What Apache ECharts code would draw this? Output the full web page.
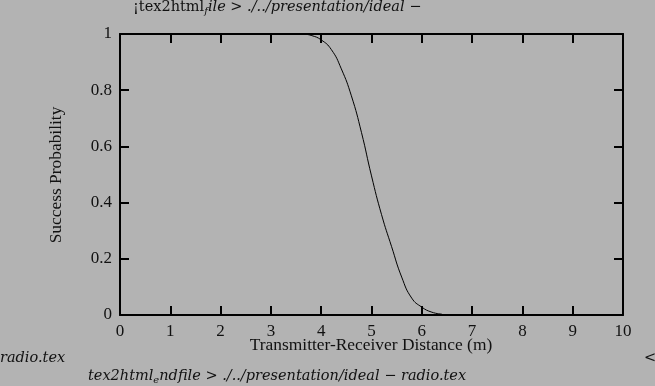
<!DOCTYPE html>
<html>
<head>
<meta charset="utf-8">
<script src="https://cdn.jsdelivr.net/npm/echarts@6/dist/echarts.min.js"></script>
<style>
html,body{margin:0;padding:0;background:#b3b3b3;}
#c{width:655px;height:386px;}
</style>
</head>
<body>
<div id="c"></div>
<script>
const distance = [3.64, 3.8, 4.0, 4.2, 4.4, 4.6, 4.8, 5.0, 5.2, 5.4, 5.6, 5.8, 6.0, 6.2, 6.4];
const probability = [1.0, 0.995, 0.979, 0.945, 0.876, 0.78, 0.65, 0.495, 0.357, 0.243, 0.135, 0.06, 0.028, 0.01, 0.003];
const xTicks = [0, 1, 2, 3, 4, 5, 6, 7, 8, 9, 10];
const yTicks = [0, 0.2, 0.4, 0.6, 0.8, 1];
const xName = 'Transmitter-Receiver Distance (m)';
const yName = 'Success Probability';

const FONT = 'Liberation Serif';
const MFONT = 'DejaVu Serif';
const chart = echarts.init(document.getElementById('c'), null, {renderer: 'canvas'});
const axisLine = () => ({show: true, onZero: false, lineStyle: {color: '#000', width: 2}});
const tick = (len) => ({show: true, inside: true, length: len, lineStyle: {color: '#000', width: 2}});
const lbl = (m) => ({show: true, margin: m, color: '#111', fontFamily: FONT, fontSize: 17});

chart.setOption({
  backgroundColor: '#b3b3b3',
  animation: false,
  grid: {left: 120, right: 32, top: 34, bottom: 71},
  xAxis: [
    {type: 'value', position: 'bottom', min: xTicks[0], max: xTicks[xTicks.length-1], interval: 1,
     axisLine: axisLine(), axisTick: tick(9), splitLine: {show: false},
     axisLabel: lbl(8)},
    {type: 'value', position: 'top', min: xTicks[0], max: xTicks[xTicks.length-1], interval: 1,
     axisLine: axisLine(), axisTick: tick(9), splitLine: {show: false}, axisLabel: {show: false}}
  ],
  yAxis: [
    {type: 'value', position: 'left', min: yTicks[0], max: yTicks[yTicks.length-1], interval: 0.2,
     axisLine: axisLine(), axisTick: tick(9), splitLine: {show: false},
     axisLabel: lbl(8)},
    {type: 'value', position: 'right', min: yTicks[0], max: yTicks[yTicks.length-1], interval: 0.2,
     axisLine: axisLine(), axisTick: tick(9), splitLine: {show: false}, axisLabel: {show: false}}
  ],
  series: [{
    type: 'line', xAxisIndex: 0, yAxisIndex: 0, smooth: true, showSymbol: false,
    lineStyle: {color: '#000', width: 1},
    data: distance.map((d, i) => [d, probability[i]])
  }],
  graphic: [
    {type: 'text', x: 371, y: 337, style: {
      text: xName, font: '17.4px ' + FONT, fill: '#111', align: 'center', verticalAlign: 'top'}},
    {type: 'text', x: 56, y: 175, rotation: Math.PI / 2, style: {
      text: yName, font: '17.4px ' + FONT, fill: '#111', align: 'center', verticalAlign: 'middle'}},
    {type: 'text', left: 133, top: 0, style: {
      text: '{u|¡tex2html}{s|f}{i|ile > ./../presentation/ideal −}',
      rich: {
        u: {fontFamily: MFONT, fontSize: 14.5, fill: '#111'},
        s: {fontFamily: MFONT, fontStyle: 'italic', fontSize: 10, fill: '#111', padding: [7, 0, 0, 0]},
        i: {fontFamily: MFONT, fontStyle: 'italic', fontSize: 14.5, fill: '#111'}
      }}},
    {type: 'text', left: 0, top: 351, style: {
      text: 'radio.tex', font: 'italic 14.5px ' + MFONT, fill: '#111'}},
    {type: 'text', left: 644, top: 351, style: {
      text: '<', font: '14.5px ' + MFONT, fill: '#111'}},
    {type: 'text', left: 88, top: 369, style: {
      text: '{i|tex2html}{s|e}{i|ndfile > ./../presentation/ideal − radio.tex}',
      rich: {
        s: {fontFamily: MFONT, fontStyle: 'italic', fontSize: 10, fill: '#111', padding: [7, 0, 0, 0]},
        i: {fontFamily: MFONT, fontStyle: 'italic', fontSize: 14.5, fill: '#111'}
      }}}
  ]
});
</script>
</body>
</html>
